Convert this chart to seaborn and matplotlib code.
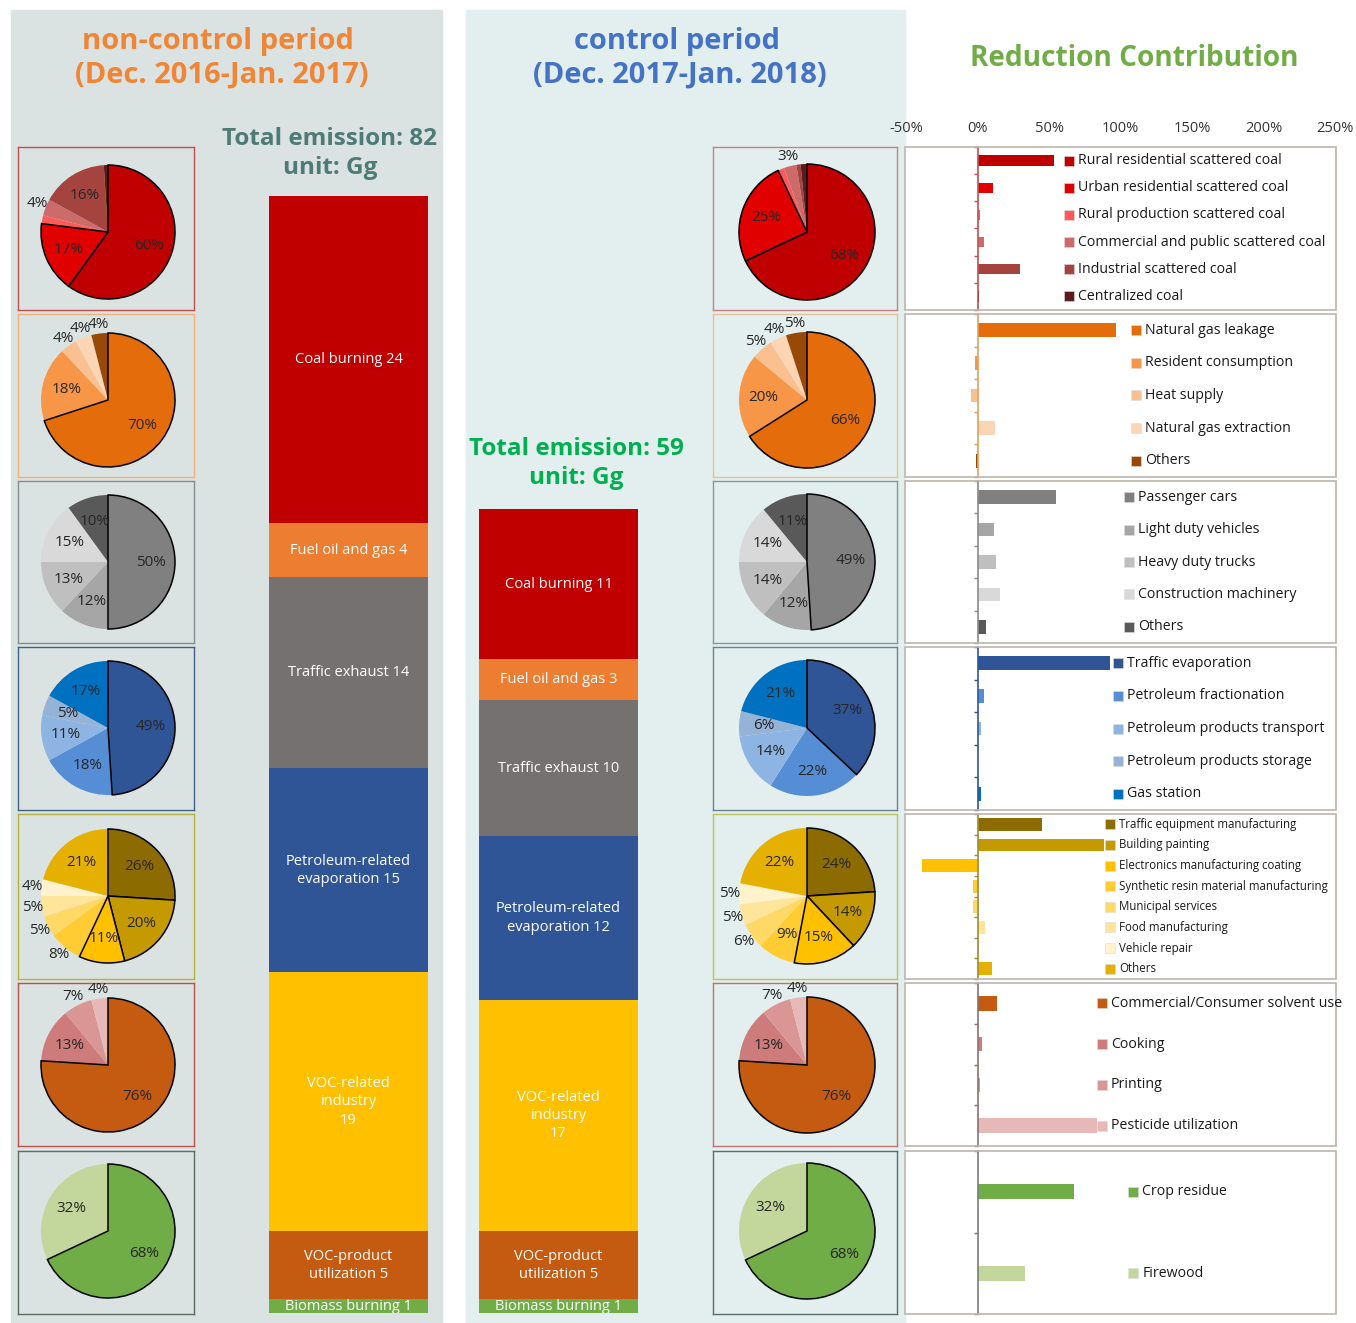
import numpy as np
import pandas as pd
import matplotlib
matplotlib.use("Agg")
import matplotlib.pyplot as plt
import seaborn as sns
from matplotlib.patches import Rectangle

sns.set_theme(style="white")
plt.rcParams["font.family"] = ["Open Sans", "DejaVu Sans"]

# ---------------- data ----------------
group_templates = ["Coal burning {}", "Fuel oil and gas {}", "Traffic exhaust {}",
                   "Petroleum-related\nevaporation {}", "VOC-related\nindustry\n{}",
                   "VOC-product\nutilization {}", "Biomass burning {}"]
emis_noncontrol = [24, 4, 14, 15, 19, 5, 1]
emis_control = [11, 3, 10, 12, 17, 5, 1]
group_colors = ["#c00000", "#ed7d31", "#767171", "#2f5597", "#ffc000", "#c55a11", "#70ad47"]

coal_cats = ["Rural residential scattered coal", "Urban residential scattered coal",
             "Rural production scattered coal", "Commercial and public scattered coal",
             "Industrial scattered coal", "Centralized coal"]
coal_colors = ["#c00000", "#e00000", "#ff5a5a", "#cd6b6b", "#a5443f", "#5c1a1a"]
coal_nc = [60, 17, 2, 4, 16, 1]
coal_c = [68, 25, 1.5, 3, 1, 1.5]
coal_red = [53.4, 10.7, 1.4, 4.7, 29.6, 0.7]

gas_cats = ["Natural gas leakage", "Resident consumption", "Heat supply",
            "Natural gas extraction", "Others"]
gas_colors = ["#e46c0a", "#f79646", "#fac090", "#fcd5b5", "#984807"]
gas_nc = [70, 18, 4, 4, 4]
gas_c = [66, 20, 5, 4, 5]
gas_red = [96.8, -1.6, -4.2, 12.4, -0.7]

traf_cats = ["Passenger cars", "Light duty vehicles", "Heavy duty trucks",
             "Construction machinery", "Others"]
traf_colors = ["#808080", "#a6a6a6", "#bfbfbf", "#d9d9d9", "#595959"]
traf_nc = [50, 12, 13, 15, 10]
traf_c = [49, 12, 14, 14, 11]
traf_red = [55.0, 11.6, 13.0, 15.6, 6.0]

petr_cats = ["Traffic evaporation", "Petroleum fractionation", "Petroleum products transport",
             "Petroleum products storage", "Gas station"]
petr_colors = ["#2f5597", "#558ed5", "#8db4e2", "#95b3d7", "#0070c0"]
petr_nc = [49, 18, 11, 5, 17]
petr_c = [37, 22, 14, 6, 21]
petr_red = [92.5, 4.7, 2.1, 0.3, 2.6]

voc_cats = ["Traffic equipment manufacturing", "Building painting",
            "Electronics manufacturing coating", "Synthetic resin material manufacturing",
            "Municipal services", "Food manufacturing", "Vehicle repair", "Others"]
voc_colors = ["#8c6c00", "#c49a00", "#ffc000", "#ffcd33", "#ffd966", "#ffe599", "#fff2cc", "#e6b000"]
voc_nc = [26, 20, 11, 8, 5, 5, 4, 21]
voc_c = [24, 14, 15, 9, 6, 5, 5, 22]
voc_red = [44.8, 88.3, -39.0, -3.3, -3.0, 5.1, -0.5, 10.3]

prod_cats = ["Commercial/Consumer solvent use", "Cooking", "Printing", "Pesticide utilization"]
prod_colors = ["#c55a11", "#cd7b7b", "#d99694", "#e6b9b8"]
prod_nc = [76, 13, 7, 4]
prod_c = [76, 13, 7, 4]
prod_red = [13.7, 2.8, 1.4, 83.5]

bio_cats = ["Crop residue", "Firewood"]
bio_colors = ["#70ad47", "#c3d69b"]
bio_nc = [68, 32]
bio_c = [68, 32]
bio_red = [67.4, 33.0]

xticks_pct = [-50, 0, 50, 100, 150, 200, 250]

# ---------------- layout ----------------
W, H = 1356, 1323
fig = plt.figure(figsize=(W / 100, H / 100), dpi=100)
fig.patch.set_facecolor("white")


def px_axes(x0, y0, x1, y1):
    return fig.add_axes([x0 / W, 1 - y1 / H, (x1 - x0) / W, (y1 - y0) / H])


def ftext(x, y, s, **kw):
    fig.text(x / W, 1 - y / H, s, **kw)


fig.patches.append(Rectangle((11 / W, 0), (442 - 11) / W, (H - 10) / H,
                             transform=fig.transFigure, color="#dbe3e2", zorder=-5))
fig.patches.append(Rectangle((466 / W, 0), (905 - 466) / W, (H - 10) / H,
                             transform=fig.transFigure, color="#e3efee", zorder=-5))

# titles
tkw = dict(ha="center", va="center", fontweight="bold")
ftext(218, 42, "non-control period", fontsize=21, color="#ef8535", **tkw)
ftext(222, 75, "(Dec. 2016-Jan. 2017)", fontsize=21, color="#ef8535", **tkw)
ftext(677, 42, "control period", fontsize=21, color="#4472c4", **tkw)
ftext(680, 75, "(Dec. 2017-Jan. 2018)", fontsize=21, color="#4472c4", **tkw)
ftext(1134, 59, "Reduction Contribution", fontsize=20.2, color="#70ad47", **tkw)
ftext(330, 139, f"Total emission: {sum(emis_noncontrol)}", fontsize=17.5, color="#4f7b77", **tkw)
ftext(330, 168, "unit: Gg", fontsize=17.5, color="#4f7b77", **tkw)
ftext(576, 449, f"Total emission: {sum(emis_control)}", fontsize=17.5, color="#00b050", **tkw)
ftext(576, 478, "unit: Gg", fontsize=17.5, color="#00b050", **tkw)

# ---------------- stacked bars ----------------
for (x0, x1), vals in [((269, 428), emis_noncontrol), ((479, 638), emis_control)]:
    ax = px_axes(x0, 196, x1, 1313)
    ax.set_facecolor("none")
    bottom = sum(vals)
    for tmpl, v, col in zip(group_templates, vals, group_colors):
        bottom -= v
        ax.bar(0, v, bottom=bottom, width=1, color=col, linewidth=0)
        ax.text(0, bottom + v / 2, tmpl.format(v), ha="center", va="center",
                color="white", fontsize=10.5, linespacing=1.3, clip_on=True)
    ax.set_xlim(-0.5, 0.5)
    ax.set_ylim(0, sum(emis_noncontrol))
    ax.axis("off")

# ---------------- pies ----------------
rows = [(147, 310), (314, 477), (481, 643), (647, 810), (814, 979), (983, 1146), (1151, 1314)]
pie_cy = [232, 400, 562, 728, 896, 1065, 1231]
pie_sets = [
    (coal_nc, coal_c, coal_colors, 2, 5, "#c0504d", "#c98080"),
    (gas_nc, gas_c, gas_colors, 1, 5, "#f0b27a", "#e2c39a"),
    (traf_nc, traf_c, traf_colors, 1, 0, "#84908f", "#86999a"),
    (petr_nc, petr_c, petr_colors, 1, 0, "#40618c", "#6a8196"),
    (voc_nc, voc_c, voc_colors, 3, 8, "#b3b33e", "#bcc35a"),
    (prod_nc, prod_c, prod_colors, 1, 8, "#c0504d", "#c07070"),
    (bio_nc, bio_c, bio_colors, 1, 0, "#5b6b60", "#55706a"),
]


def pie_box(bx0, bx1, by0, by1, cx, cy, r, vals, colors, n_out, thr, fcol):
    ax = px_axes(bx0, by0, bx1, by1)
    ax.set_facecolor("none")
    wedges, _ = ax.pie(vals, colors=colors, startangle=90, counterclock=False,
                       radius=r, center=(cx, H - cy), frame=True,
                       wedgeprops=dict(linewidth=0))
    for w in wedges[:n_out]:
        w.set_edgecolor("black")
        w.set_linewidth(1.1)
        w.set_zorder(3)
    for w, v in zip(wedges, vals):
        if v < 3:
            continue
        ang = np.deg2rad((w.theta1 + w.theta2) / 2)
        f = 1.14 if v <= thr else 0.64
        ax.text(cx + f * r * np.cos(ang), H - cy + f * r * np.sin(ang), f"{v:.0f}%",
                ha="center", va="center", fontsize=11, color="#262626", zorder=5)
    ax.set_xlim(bx0, bx1)
    ax.set_ylim(H - by1, H - by0)
    ax.set_xticks([])
    ax.set_yticks([])
    for s in ax.spines.values():
        s.set_visible(True)
        s.set_edgecolor(fcol)
        s.set_linewidth(1.0)


for (y0, y1), cy, (nc, c, cols, n_out, thr, fl, fr) in zip(rows, pie_cy, pie_sets):
    pie_box(18, 194, y0, y1, 108, cy, 67, nc, cols, n_out, thr, fl)
    pie_box(713, 897, y0, y1, 807, cy, 68, c, cols, n_out, thr, fr)

# ---------------- reduction panels ----------------
panels = [
    (coal_cats, coal_red, coal_colors, 0.38, 64, 10.2, "#c0504d"),
    (gas_cats, gas_red, gas_colors, 0.42, 111, 10.2, "#e0a060"),
    (traf_cats, traf_red, traf_colors, 0.42, 106, 10.2, "#8a8a8a"),
    (petr_cats, petr_red, petr_colors, 0.42, 98, 10.2, "#2f5597"),
    (voc_cats, voc_red, voc_colors, 0.62, 93, 8.3, "#a08a30"),
    (prod_cats, prod_red, prod_colors, 0.35, 87, 10.2, "#8a7070"),
    (bio_cats, bio_red, bio_colors, 0.18, 109, 10.2, "#7a7a7a"),
]

for i, ((y0, y1), (cats, vals, cols, width, legx, lfs, acol)) in enumerate(zip(rows, panels)):
    ax = px_axes(905, y0, 1336, y1)
    df = pd.DataFrame({"cat": cats, "val": vals})
    sns.barplot(data=df, x="val", y="cat", hue="cat", palette=cols, orient="h",
                width=width, saturation=1, legend=False, ax=ax, linewidth=0)
    ax.set_xlim(-50.7, 250.7)
    ax.set_ylim(len(cats) - 0.5, -0.5)
    ax.set_xlabel("")
    ax.set_ylabel("")
    ax.set_facecolor("white")
    for s in ["top", "right", "bottom"]:
        ax.spines[s].set_visible(False)
    ax.spines["left"].set_position(("data", 0))
    ax.spines["left"].set_color(acol)
    ax.spines["left"].set_linewidth(1.2)
    ax.set_yticks(np.arange(len(cats) + 1) - 0.5)
    ax.set_yticklabels([])
    ax.tick_params(axis="y", left=True, length=3, width=1, color=acol, direction="out")
    ax.add_patch(Rectangle((0, 0), 1, 1, transform=ax.transAxes, fill=False,
                           edgecolor="#bdb5ae", linewidth=1.2, clip_on=False, zorder=6))
    if i == 0:
        ax.xaxis.tick_top()
        ax.set_xticks(xticks_pct)
        ax.set_xticklabels([f"{t}%" for t in xticks_pct])
        ax.tick_params(axis="x", top=True, bottom=False, length=0, pad=8,
                       labelsize=10.5, labelcolor="#333333")
    else:
        ax.set_xticks([])
    for j, (cname, col) in enumerate(zip(cats, cols)):
        ax.plot(legx, j, marker="s", ms=7, color=col, mec="#dddddd", mew=0.4,
                clip_on=False, zorder=7)
        ax.text(legx + 6.3, j, cname, va="center", ha="left", fontsize=lfs,
                color="#1a1a1a", clip_on=False, zorder=7)

fig.savefig("out.png", dpi=100, facecolor="white")
